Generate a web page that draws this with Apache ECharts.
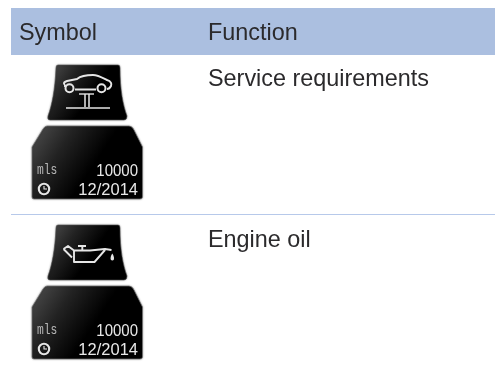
<!DOCTYPE html>
<html><head><meta charset="utf-8">
<script src="https://cdn.jsdelivr.net/npm/echarts@6/dist/echarts.min.js"></script>
<style>html,body{margin:0;padding:0;background:#fff}#c{width:501px;height:374px}</style>
</head><body><div id="c"></div>
<script>
const headers = ['Symbol', 'Function'];
const functions = ['Service requirements', 'Engine oil'];
const rowIcons = ['lift', 'oil'];
const unitLabel = 'mls';
const distance = '10000';
const dueDate = '12/2014';

const sans = '"Liberation Sans", Arial, sans-serif';
const ink = '#2b2a2c';
const ICON = '#e6e6e6';
const chart = echarts.init(document.getElementById('c'), null, {renderer: 'canvas'});
const g = [];

g.push({type:'rect', shape:{x:11,y:8,width:484,height:47}, style:{fill:'#abbfe0'}, silent:true});
g.push({type:'rect', shape:{x:11,y:214,width:484,height:1}, style:{fill:'#b7c9ea'}, silent:true});
const bodyFont = '23.4px '+sans;
g.push({type:'text', x:19, y:33.5, style:{text:headers[0], font:bodyFont, fill:ink, verticalAlign:'middle'}});
g.push({type:'text', x:208, y:33.5, style:{text:headers[1], font:bodyFont, fill:ink, verticalAlign:'middle'}});

const shade = () => new echarts.graphic.LinearGradient(0,0,1,1,[
  {offset:0,color:'#505050'},{offset:0.28,color:'#222'},{offset:0.55,color:'#000'},{offset:1,color:'#000'}]);

function line(path, w){
  return {type:'path', shape:{pathData:path}, style:{fill:'none', stroke:ICON, lineWidth:w||1.8, lineJoin:'round'}, silent:true};
}
function lift(){
  g.push(line('M65 85 C63 83 64 82 67 81 L77 79 C82 75 88 75 93 75 C98 75 103 78 107 80 C111 81 112 84 111 86 C110 88 109 89 107 89 M96 89.5 L75 89.5 M65 85 L65 87',2));
  g.push({type:'circle',shape:{cx:69.5,cy:88.3,r:4},style:{fill:'none',stroke:ICON,lineWidth:2},silent:true});
  g.push({type:'circle',shape:{cx:101.5,cy:88.3,r:4},style:{fill:'none',stroke:ICON,lineWidth:2},silent:true});
  g.push(line('M79 94 L94 94',1.4));
  g.push(line('M85 94 L85 107 M89 94 L89 107',1.5));
  g.push(line('M66 108 L110 108',1.6));
}
function oil(){
  g.push(line('M63.5 249 L68 246 L74 250.5 L90 250.5 L105 249 L111.5 250 M74 250.5 L74 262 L94.5 262 L105 250 M63.5 249 L72 257.5 M78 246 L86 246 M82.3 246 L82.3 250',1.9));
  g.push({type:'path',shape:{pathData:'M112.3 253.5 C110 257 110 260.5 112.3 260.5 C114.6 260.5 114.6 257 112.3 253.5 Z'},style:{fill:ICON},silent:true});
}
function panels(top, kind){
  const d = top - 65;
  g.push({type:'path', y:d, shape:{pathData:'M58 65 L118 65 Q120 65 120 68 C120 90 123 105 127 116 Q127 120 124 120 L50 120 Q47 120 48 116 C52 105 55 90 56 68 Q56 65 58 65 Z'},
    style:{fill:shade(), stroke:'#555', lineWidth:0.6, shadowBlur:2, shadowColor:'rgba(0,0,0,.35)'}, silent:true});
  if(kind==='lift') lift(); else oil();
  g.push({type:'path', y:d, shape:{pathData:'M47 126 L129 126 Q132 126 134 130 L142.5 147 L142.5 197 Q142.5 199 140 199 L34 199 Q32 199 32 197 L32 147 L43 129 Q45 126 47 126 Z'},
    style:{fill:shade(), stroke:'#777', lineWidth:0.7, shadowBlur:2, shadowColor:'rgba(0,0,0,.35)'}, silent:true});
  g.push({type:'text', x:37, y:d+170.5, scaleY:1.25, style:{text:unitLabel, font:'11.3px "Liberation Mono", monospace', fill:'#b8b8b8', verticalAlign:'middle'}});
  g.push({type:'text', x:138, y:d+171, scaleY:1.1, style:{text:distance, font:'15px '+sans, fill:'#e8e8e8', align:'right', verticalAlign:'middle'}});
  g.push({type:'text', x:138, y:d+190.5, scaleX:1.1, scaleY:1.1, style:{text:dueDate, font:'15px '+sans, fill:'#e8e8e8', align:'right', verticalAlign:'middle'}});
  g.push({type:'circle', y:d, shape:{cx:44,cy:189,r:5.2}, style:{fill:'none',stroke:'#e6e6e6',lineWidth:2.1},silent:true});
  g.push({type:'path', y:d, shape:{pathData:'M44 186 L44 189 L47 189'}, style:{fill:'none',stroke:'#e6e6e6',lineWidth:1.1}, silent:true});
}
const tops = [65, 225];
const textY = [79.5, 240.5];
rowIcons.forEach((k,i)=>{
  panels(tops[i], k);
  g.push({type:'text', x:208, y:textY[i], style:{text:functions[i], font:bodyFont, fill:ink, verticalAlign:'middle'}});
});
chart.setOption({animation:false, backgroundColor:'#fff', series:[{
  type:'custom', coordinateSystem:'none', silent:true, clip:false, data:[[0]],
  renderItem:()=>({type:'group', children:g})
}]});
</script></body></html>
